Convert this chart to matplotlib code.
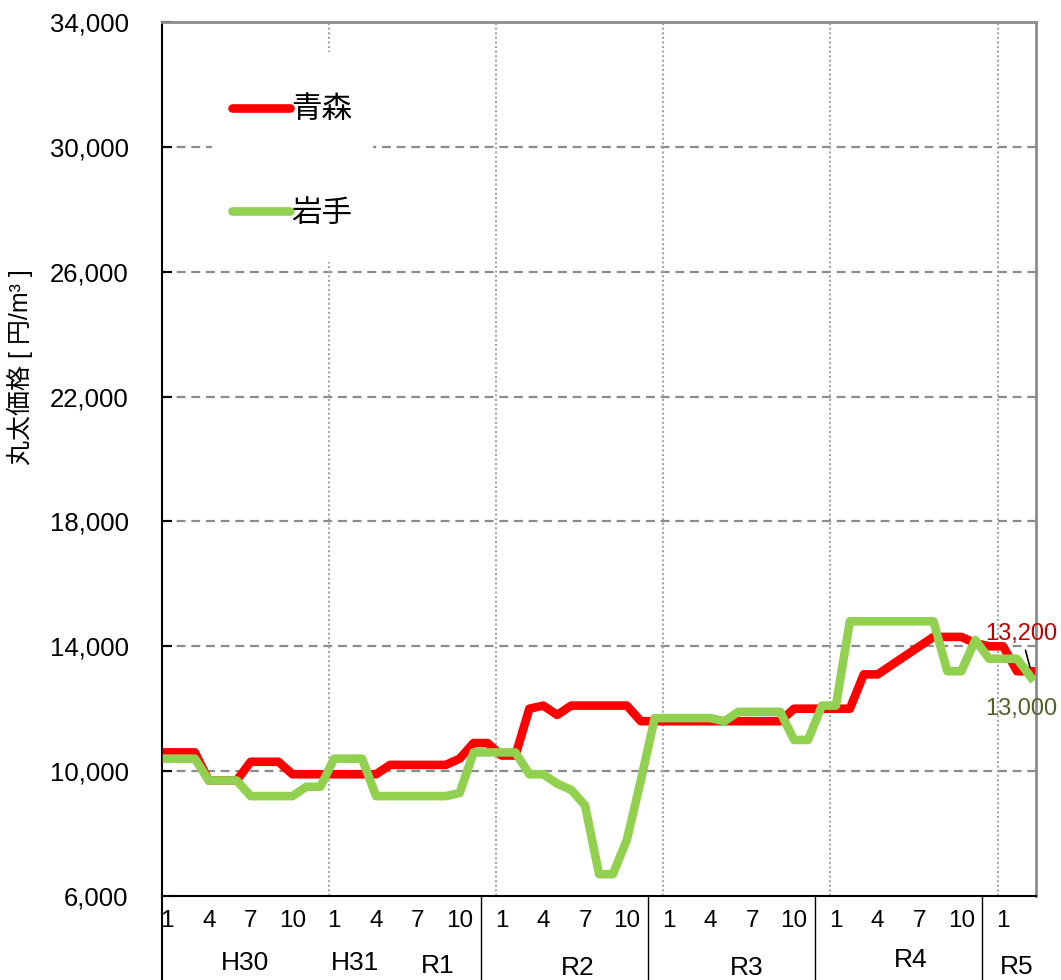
import numpy as np
import matplotlib
matplotlib.use("Agg")
import matplotlib.pyplot as plt
from matplotlib.patches import Rectangle

plt.rcParams['font.family'] = ['Liberation Sans', 'Noto Sans CJK JP']

# monthly log prices (yen/m3), Jan H30 .. Mar R5
aomori = [10600, 10600, 10600, 9700, 9700, 9700, 10300, 10300, 10300, 9900,
          9900, 9900, 9900, 9900, 9900, 9900, 10200, 10200, 10200, 10200,
          10200, 10400, 10900, 10900, 10500, 10500, 12000, 12100, 11800, 12100,
          12100, 12100, 12100, 12100, 11600, 11600, 11600, 11600, 11600, 11600,
          11600, 11600, 11600, 11600, 11600, 12000, 12000, 12000, 12000, 12000,
          13100, 13100, 13400, 13700, 14000, 14300, 14300, 14300, 14100, 14000,
          14000, 13200, 13200]
iwate = [10400, 10400, 10400, 9700, 9700, 9700, 9200, 9200, 9200, 9200,
         9500, 9500, 10400, 10400, 10400, 9200, 9200, 9200, 9200, 9200,
         9200, 9300, 10600, 10600, 10600, 10600, 9900, 9900, 9600, 9400,
         8900, 6700, 6700, 7800, 9700, 11700, 11700, 11700, 11700, 11700,
         11600, 11900, 11900, 11900, 11900, 11000, 11000, 12100, 12100, 14800,
         14800, 14800, 14800, 14800, 14800, 14800, 13200, 13200, 14200, 13600,
         13600, 13600, 13000]

month_labels = ["1", "4", "7", "10"]
year_labels = ["H30", "H31", "R1", "R2", "R3", "R4", "R5"]
year_x = [5.6, 13.5, 19.4, 29.5, 41.6, 53.4, 61.0]
year_y = [-0.077, -0.077, -0.080, -0.082, -0.082, -0.073, -0.081]

x = np.arange(len(aomori))

fig = plt.figure(figsize=(10.61, 9.8), dpi=100)
ax = fig.add_axes([162 / 1061, 84 / 980, 874 / 1061, 874 / 980])

ax.plot(x, aomori, color="#FF0000", lw=6.2, label="青森", solid_joinstyle="round", zorder=3)
ax.plot(x, iwate, color="#92D050", lw=6.2, label="岩手", solid_joinstyle="round", zorder=4)

ax.set_xlim(-0.36, 62.36)
ax.set_ylim(6000, 34000)

yt = list(range(6000, 34001, 4000))
ax.set_yticks(yt)
ax.set_yticklabels([f"{v:,}" for v in yt], fontsize=18.5)
ax.tick_params(axis="y", direction="in", length=7, width=1.5, pad=24)

xt = list(range(0, len(aomori), 3))
ax.set_xticks(xt)
ax.set_xticklabels([month_labels[i % 4] for i in range(len(xt))], fontsize=17.5)
ax.tick_params(axis="x", length=0, pad=10)

# grid
for v in yt[1:-1]:
    ax.axhline(v, color="#8C8C8C", lw=1.6, ls=(0, (4, 2.6)), zorder=1)
for b in range(12, len(aomori), 12):
    ax.axvline(b - 0.4, color="#A6A6A6", lw=1.5, ls=(0, (1, 1.2)), zorder=1)

for s in ["left", "bottom"]:
    ax.spines[s].set_color("black")
    ax.spines[s].set_linewidth(1.5)
for s in ["top", "right"]:
    ax.spines[s].set_color("#8C8C8C")
    ax.spines[s].set_linewidth(2)

# category table below the axis
tr = ax.get_xaxis_transform()
ax.plot([0, 0], [0, -0.1], transform=ax.transAxes, color="black", lw=1.5, clip_on=False)
for b in range(23, len(aomori), 12):
    ax.plot([b - 0.5, b - 0.5], [0, -0.1], transform=tr, color="black", lw=1, clip_on=False)
for lab, xp, yp in zip(year_labels, year_x, year_y):
    ax.text(xp, yp, lab, transform=tr, ha="center", va="center", fontsize=19)

# end labels
ax.annotate(f"{aomori[-1]:,}", xy=(x[-1], aomori[-1]), xytext=(-7, 27),
            textcoords="offset points", ha="center", va="center", fontsize=17,
            color="#C00000", arrowprops=dict(arrowstyle="-", color="black", lw=1.2,
                                              shrinkA=2, shrinkB=3))
ax.annotate(f"{iwate[-1]:,}", xy=(x[-1], iwate[-1]), xytext=(-7, -23),
            textcoords="offset points", ha="center", va="center", fontsize=17,
            color="#4F6228")

# white legend area
ax.add_patch(Rectangle(((212 - 162) / 874, (896 - 262) / 874), 161 / 874, 210 / 874,
                       transform=ax.transAxes, facecolor="white", edgecolor="none", zorder=2))
leg = ax.legend(loc="upper left", bbox_to_anchor=(0.080, 0.916), fontsize=22,
                frameon=False, handlelength=1.9, handletextpad=0.05, labelspacing=2.4,
                borderpad=0, borderaxespad=0)
for h in leg.get_lines():
    h.set_solid_capstyle("round")

fig.text(20 / 1061, 1 - 367 / 980, "丸太価格 [ 円/m³ ]", rotation=90,
         ha="center", va="center", fontsize=18)

fig.savefig("out.png", dpi=100)
